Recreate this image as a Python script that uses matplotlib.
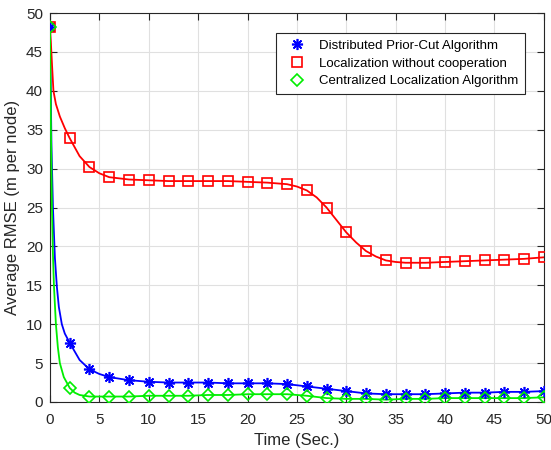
import matplotlib
matplotlib.use("Agg")
import matplotlib.pyplot as plt

plt.rcParams['font.family'] = ['Liberation Sans', 'DejaVu Sans']

# marker samples (every 2 s)
t_mark = [0, 2, 4, 6, 8, 10, 12, 14, 16, 18, 20, 22, 24, 26, 28, 30, 32, 34, 36, 38, 40, 42, 44, 46, 48, 50]
dist_mark = [48.2, 7.6, 4.2, 3.2, 2.8, 2.6, 2.5, 2.5, 2.5, 2.4, 2.4, 2.4, 2.3, 2.0, 1.7, 1.4, 1.1, 1.0, 1.0, 1.0, 1.1, 1.2, 1.2, 1.3, 1.3, 1.4]
nocoop_mark = [48.2, 33.9, 30.2, 28.9, 28.6, 28.5, 28.4, 28.4, 28.4, 28.4, 28.3, 28.2, 28.0, 27.2, 25.0, 21.8, 19.4, 18.2, 17.9, 17.9, 18.0, 18.1, 18.2, 18.3, 18.4, 18.6]
cent_mark = [48.2, 1.8, 0.7, 0.7, 0.7, 0.8, 0.8, 0.8, 0.9, 0.9, 1.0, 1.0, 1.0, 0.8, 0.5, 0.4, 0.4, 0.3, 0.4, 0.4, 0.5, 0.5, 0.5, 0.5, 0.5, 0.6]

# extra line samples
dist_line_t = [0, 0.15, 0.3, 0.5, 0.7, 0.9, 1.2, 1.5, 2, 3, 4, 5, 6, 8, 10, 12, 14, 16, 18, 20, 22, 24, 26, 28, 30, 32, 34, 36, 38, 40, 42, 44, 46, 48, 50]
dist_line_y = [48.2, 33, 25, 18.5, 14.8, 12.2, 10, 8.8, 7.6, 5.4, 4.2, 3.6, 3.2, 2.8, 2.6, 2.5, 2.5, 2.5, 2.4, 2.4, 2.4, 2.3, 2.0, 1.7, 1.4, 1.1, 1.0, 1.0, 1.0, 1.1, 1.2, 1.2, 1.3, 1.3, 1.4]
nocoop_line_t = [0, 0.1, 0.2, 0.35, 0.6, 1, 1.5, 2, 3, 4, 5, 6, 8, 10, 12, 14, 16, 18, 20, 22, 24, 25, 26, 27, 28, 29, 30, 31, 32, 33, 34, 35, 36, 38, 40, 42, 44, 46, 48, 50]
nocoop_line_y = [48.2, 46, 43.5, 40, 38.3, 36.7, 35.2, 33.9, 31.6, 30.2, 29.4, 28.9, 28.6, 28.5, 28.4, 28.4, 28.4, 28.4, 28.3, 28.2, 28.0, 27.7, 27.2, 26.3, 25.0, 23.4, 21.8, 20.5, 19.4, 18.7, 18.2, 18.0, 17.9, 17.9, 18.0, 18.1, 18.2, 18.3, 18.4, 18.6]
cent_line_t = [0, 0.1, 0.2, 0.3, 0.4, 0.6, 0.8, 1.0, 1.4, 2, 2.5, 3, 4, 6, 8, 10, 12, 14, 16, 18, 20, 22, 24, 26, 28, 30, 32, 34, 36, 38, 40, 42, 44, 46, 48, 50]
cent_line_y = [48.2, 35, 25, 19, 15, 10, 7, 5, 3.2, 1.8, 1.2, 0.9, 0.7, 0.7, 0.7, 0.8, 0.8, 0.8, 0.9, 0.9, 1.0, 1.0, 1.0, 0.8, 0.5, 0.4, 0.4, 0.3, 0.4, 0.4, 0.5, 0.5, 0.5, 0.5, 0.5, 0.6]

labels = ['Distributed Prior-Cut Algorithm', 'Localization without cooperation', 'Centralized Localization Algorithm']
x_ticks = [0, 5, 10, 15, 20, 25, 30, 35, 40, 45, 50]
y_ticks = [0, 5, 10, 15, 20, 25, 30, 35, 40, 45, 50]

fig = plt.figure(figsize=(5.51, 4.5), dpi=100)
ax = fig.add_axes([0.0907, 0.1067, 0.8963, 0.8643])

series = [
    (dist_line_t, dist_line_y, dist_mark, (8, 2, 0), 'blue', 'none', 8),
    (nocoop_line_t, nocoop_line_y, nocoop_mark, 's', 'red', 'none', 7),
    (cent_line_t, cent_line_y, cent_mark, 'D', '#00ee00', 'none', 6.5),
]
handles = []
for (lt, ly, my, mk, col, fc, ms), lab in zip(series, labels):
    ax.plot(lt, ly, color=col, lw=1.3, zorder=3)
    ax.plot(t_mark, my, linestyle='none', marker=mk, markersize=ms, markeredgecolor=col,
            markerfacecolor=fc, markeredgewidth=1.2, zorder=4)
    h, = ax.plot([], [], linestyle='none', marker=mk, markersize=ms, markeredgecolor=col,
                 markerfacecolor=fc, markeredgewidth=1.2, label=lab)
    handles.append(h)

ax.set_xlim(0, 50)
ax.set_ylim(0, 50)
ax.set_xticks(x_ticks)
ax.set_yticks(y_ticks)
ax.grid(True, color='#e0e0e0', lw=0.8)
ax.set_axisbelow(True)
ax.tick_params(direction='in', top=True, right=True, labelsize=11, colors='#262626', length=5)
ax.tick_params(axis='x', pad=8)
ax.tick_params(axis='y', pad=5)
for s in ax.spines.values():
    s.set_color('#262626')
    s.set_linewidth(0.8)
ax.set_xlabel('Time (Sec.)', fontsize=12, color='#262626', labelpad=4)
ax.set_ylabel('Average RMSE (m per node)', fontsize=12, color='#262626', labelpad=4)

leg = ax.legend(handles=handles, loc='upper right', bbox_to_anchor=(0.975, 0.965), fontsize=9.5,
                fancybox=False, edgecolor='#262626', framealpha=1, borderpad=0.5,
                handletextpad=0.6, labelspacing=0.4, handlelength=2.2)
leg.get_frame().set_linewidth(0.8)

fig.savefig('out.png', dpi=100)
